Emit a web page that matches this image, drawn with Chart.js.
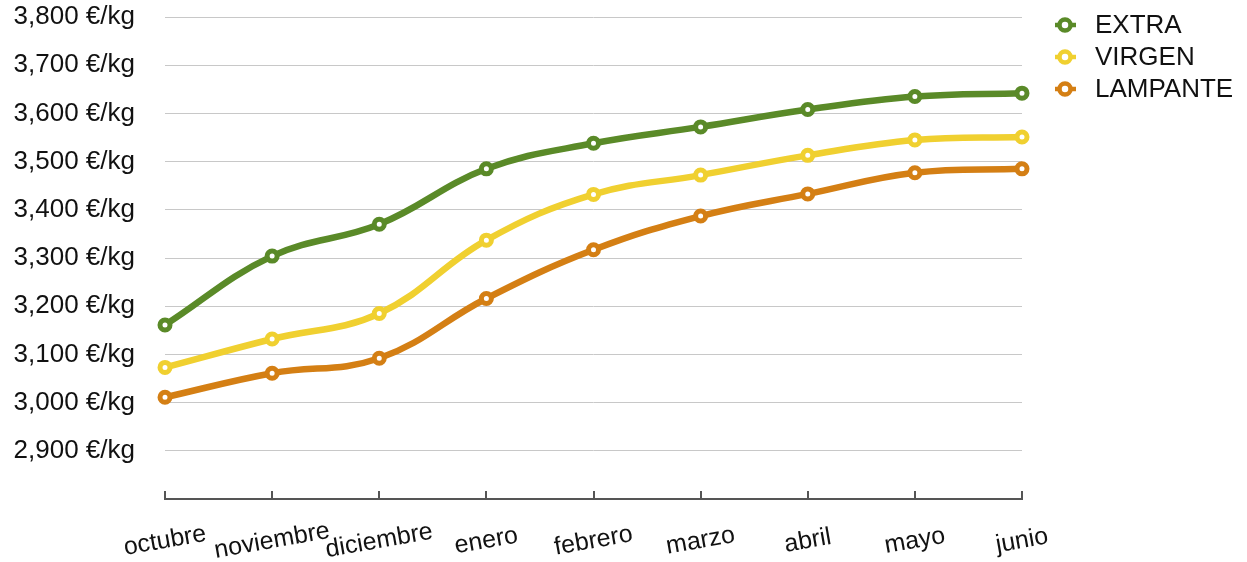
<!DOCTYPE html>
<html>
<head>
<meta charset="utf-8">
<script src="https://cdn.jsdelivr.net/npm/chart.js@4/dist/chart.umd.min.js"></script>
<style>
    html, body { margin: 0; padding: 0; background: #fff; }
    #wrap { width: 1247px; height: 562px; position: relative; }
</style>
</head>
<body>
<div id="wrap"><canvas id="chart" width="1247" height="562"></canvas></div>
<script>
const months = ["octubre", "noviembre", "diciembre", "enero", "febrero", "marzo", "abril", "mayo", "junio"];
const extraValues = [3161, 3304, 3370, 3485, 3538, 3572, 3608, 3635, 3642];
const virgenValues = [3073, 3132, 3185, 3337, 3432, 3472, 3513, 3545, 3551];
const lampanteValues = [3011, 3061, 3092, 3216, 3317, 3387, 3433, 3477, 3485];
const seriesNames = ["EXTRA", "VIRGEN", "LAMPANTE"];
const seriesColors = ["#5a8a28", "#f0d030", "#d47f14"];

const fontFamily = "'Liberation Sans', Arial, Helvetica, sans-serif";

const formatTick = (value) => {
    if (value === 2800) {
        return "";
    }
    return `${value.toLocaleString("en-US")} €/kg`;
};

const makeDataset = (label, values, color) => ({
    label: label,
    data: values,
    borderColor: color,
    backgroundColor: color,
    borderWidth: 6.5,
    tension: 0.4,
    pointRadius: 5,
    pointBorderWidth: 5,
    pointBackgroundColor: "#ffffff",
    pointBorderColor: color,
    clip: false,
});

// x labels (rotated, centered on tick) plus small upward tick marks
const axisExtras = {
    id: "axisExtras",
    afterDraw(chart) {
        const ctx = chart.ctx;
        const xScale = chart.scales.x;
        const bottom = chart.chartArea.bottom;
        ctx.save();
        ctx.strokeStyle = "#555555";
        ctx.lineWidth = 2;
        months.forEach((month, index) => {
            const x = Math.round(xScale.getPixelForValue(index));
            ctx.beginPath();
            ctx.moveTo(x, bottom);
            ctx.lineTo(x, bottom - 8);
            ctx.stroke();
        });
        ctx.fillStyle = "#111111";
        ctx.font = `25px ${fontFamily}`;
        ctx.textAlign = "center";
        ctx.textBaseline = "middle";
        months.forEach((month, index) => {
            const x = xScale.getPixelForValue(index);
            ctx.save();
            ctx.translate(x, bottom + 42);
            ctx.rotate(-10 * Math.PI / 180);
            ctx.fillText(month, 0, 0);
            ctx.restore();
        });
        ctx.restore();
    },
};

const sideLegend = {
    id: "sideLegend",
    afterDraw(chart) {
        const ctx = chart.ctx;
        ctx.save();
        chart.data.datasets.forEach((dataset, index) => {
            const y = 25 + index * 32;
            ctx.strokeStyle = dataset.borderColor;
            ctx.lineWidth = 4.5;
            ctx.beginPath();
            ctx.moveTo(1055, y);
            ctx.lineTo(1076, y);
            ctx.stroke();
            ctx.beginPath();
            ctx.arc(1065, y, 5.5, 0, Math.PI * 2);
            ctx.fillStyle = "#ffffff";
            ctx.fill();
            ctx.stroke();
            ctx.fillStyle = "#111111";
            ctx.font = `26px ${fontFamily}`;
            ctx.textAlign = "left";
            ctx.textBaseline = "middle";
            ctx.fillText(dataset.label, 1095, y + 1);
        });
        ctx.restore();
    },
};

new Chart(document.getElementById("chart"), {
    type: "line",
    data: {
        labels: months,
        datasets: [
            makeDataset(seriesNames[0], extraValues, seriesColors[0]),
            makeDataset(seriesNames[1], virgenValues, seriesColors[1]),
            makeDataset(seriesNames[2], lampanteValues, seriesColors[2]),
        ],
    },
    options: {
        responsive: false,
        animation: false,
        devicePixelRatio: 1,
        layout: {
            padding: { left: 0, top: 17, right: 225, bottom: 0 },
        },
        plugins: {
            legend: { display: false },
            tooltip: { enabled: false },
        },
        scales: {
            x: {
                offset: false,
                grid: { display: false },
                border: { display: true, color: "#555555", width: 2 },
                ticks: { display: false },
                afterFit: (scale) => {
                    scale.height = 63;
                    scale.paddingLeft = 0;
                    scale.paddingRight = 0;
                },
            },
            y: {
                min: 2800,
                max: 3800,
                border: { display: false },
                grid: {
                    drawTicks: false,
                    lineWidth: 1,
                    color: (context) => (context.tick && context.tick.value === 2800 ? "rgba(0,0,0,0)" : "#c8c8c8"),
                },
                ticks: {
                    stepSize: 100,
                    padding: 30,
                    color: "#111111",
                    font: { family: fontFamily, size: 26 },
                    callback: (value) => formatTick(value),
                },
                afterFit: (scale) => {
                    scale.width = 165;
                    scale.paddingTop = 0;
                    scale.paddingBottom = 0;
                },
            },
        },
    },
    plugins: [axisExtras, sideLegend],
});
</script>
</body>
</html>
